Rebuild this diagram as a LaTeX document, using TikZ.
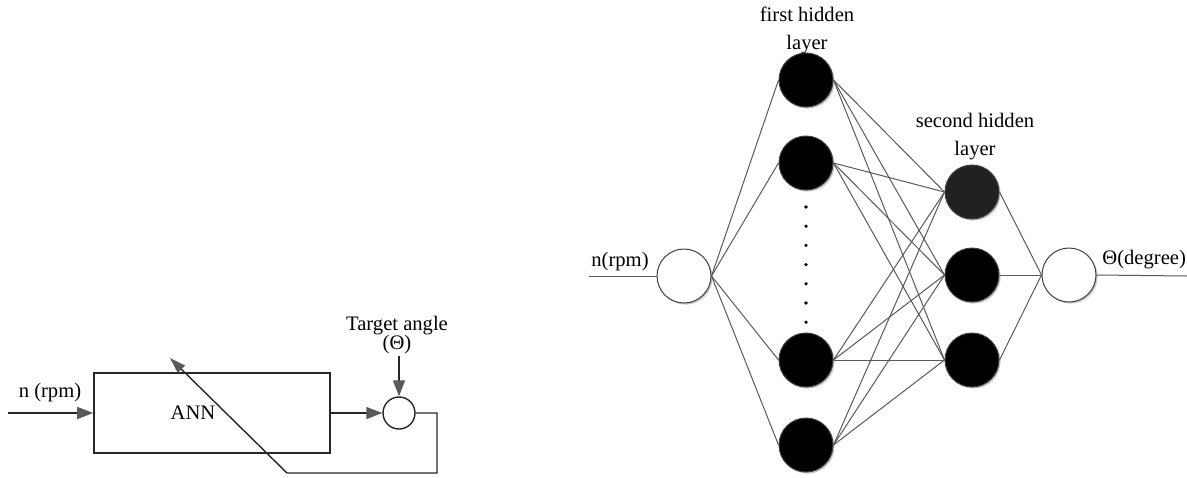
\documentclass[tikz,border=0pt]{standalone}
\usepackage{fontspec}
\setmainfont{Liberation Serif}
\usetikzlibrary{arrows.meta,positioning,shadows}

\begin{document}
\begin{tikzpicture}[
x=0.5pt, y=-0.5pt,
font=\rmfamily\fontsize{10.3}{14}\selectfont,
neuron/.style={
    circle,
    draw=black!75,
    line width=0.5pt,
    minimum size=27pt,
    inner sep=0pt,
    fill=black,
    drop shadow={shadow xshift=0.8pt, shadow yshift=-0.8pt, fill=black!22, opacity=1}
},
io/.style={neuron, fill=white},
link/.style={draw=black!65, line width=0.5pt},
blk/.style={rectangle, draw=black!85, line width=0.8pt, minimum width=118pt, minimum height=40pt},
sumc/.style={circle, draw=black!85, line width=0.7pt, minimum size=16pt, inner sep=0pt},
arr/.style={-{Triangle[length=8pt, width=6pt, color=black!65]}, draw=black!85, line width=0.7pt}
]
\useasboundingbox (0,0) rectangle (1187,477);

% left: ANN with feedback
\node[blk] (ann) at (212,413) {};
\node (annlbl) at (193,413) {ANN};
\node[sumc] (sum) at (399,413) {};
\node (nin) at (50,393) {n (rpm)};
\node[align=center, inner sep=1pt, font=\rmfamily\fontsize{10.3}{9.5}\selectfont] (target) at (397,335) {Target angle\\(Θ)};
\coordinate (inl) at (8,413);
\coordinate (fbr) at (437,473);
\coordinate (fbl) at (287,473);
\coordinate (fbtip) at (170,358);

\draw[arr] (inl) -- (ann.west);
\draw[arr] (ann.east) -- (sum.west);
\draw[arr] (target.south -| sum.north) -- (sum.north);
\draw[arr, -{Triangle[length=8pt, width=5pt, color=black!65]}] (sum.east) -| (fbr) -- (fbl) -- (fbtip);

% right: network
\node[io] (in) at (684,276) {};
\node[neuron] (h1) at (806,80) {};
\node[neuron] (h2) at (806,163) {};
\node[neuron] (h3) at (806,360) {};
\node[neuron] (h4) at (806,445) {};
\node[neuron, fill=black!87] (g1) at (972,192) {};
\node[neuron] (g2) at (972,275) {};
\node[neuron] (g3) at (972,360) {};
\node[io] (out) at (1069,275) {};

\node[align=center] (lay1) at (807,30) {first hidden\\layer};
\node[align=center] (lay2) at (975,137) {second hidden\\layer};
\node (nrpm) at (620,262) {n(rpm)};
\node[anchor=west, inner sep=0pt] (deg) at (1102,260) {Θ(degree)};
\coordinate (rin) at (589,276);
\coordinate (rout) at (1187,276);

\foreach \k in {0,...,6}
    \fill (806,207+19.2*\k) circle (0.9pt);

\draw[link] (rin) -- (in.west);
\foreach \i in {1,...,4}
    \draw[link] (in.east) -- (h\i.west);
\foreach \i in {1,...,4}
    \foreach \j in {1,2,3}
        \draw[link] (h\i.east) -- (g\j.west);
\foreach \j in {1,2,3}
    \draw[link] (g\j.east) -- (out.west);
\draw[link] (out.east) -- (rout);
\end{tikzpicture}
\end{document}
